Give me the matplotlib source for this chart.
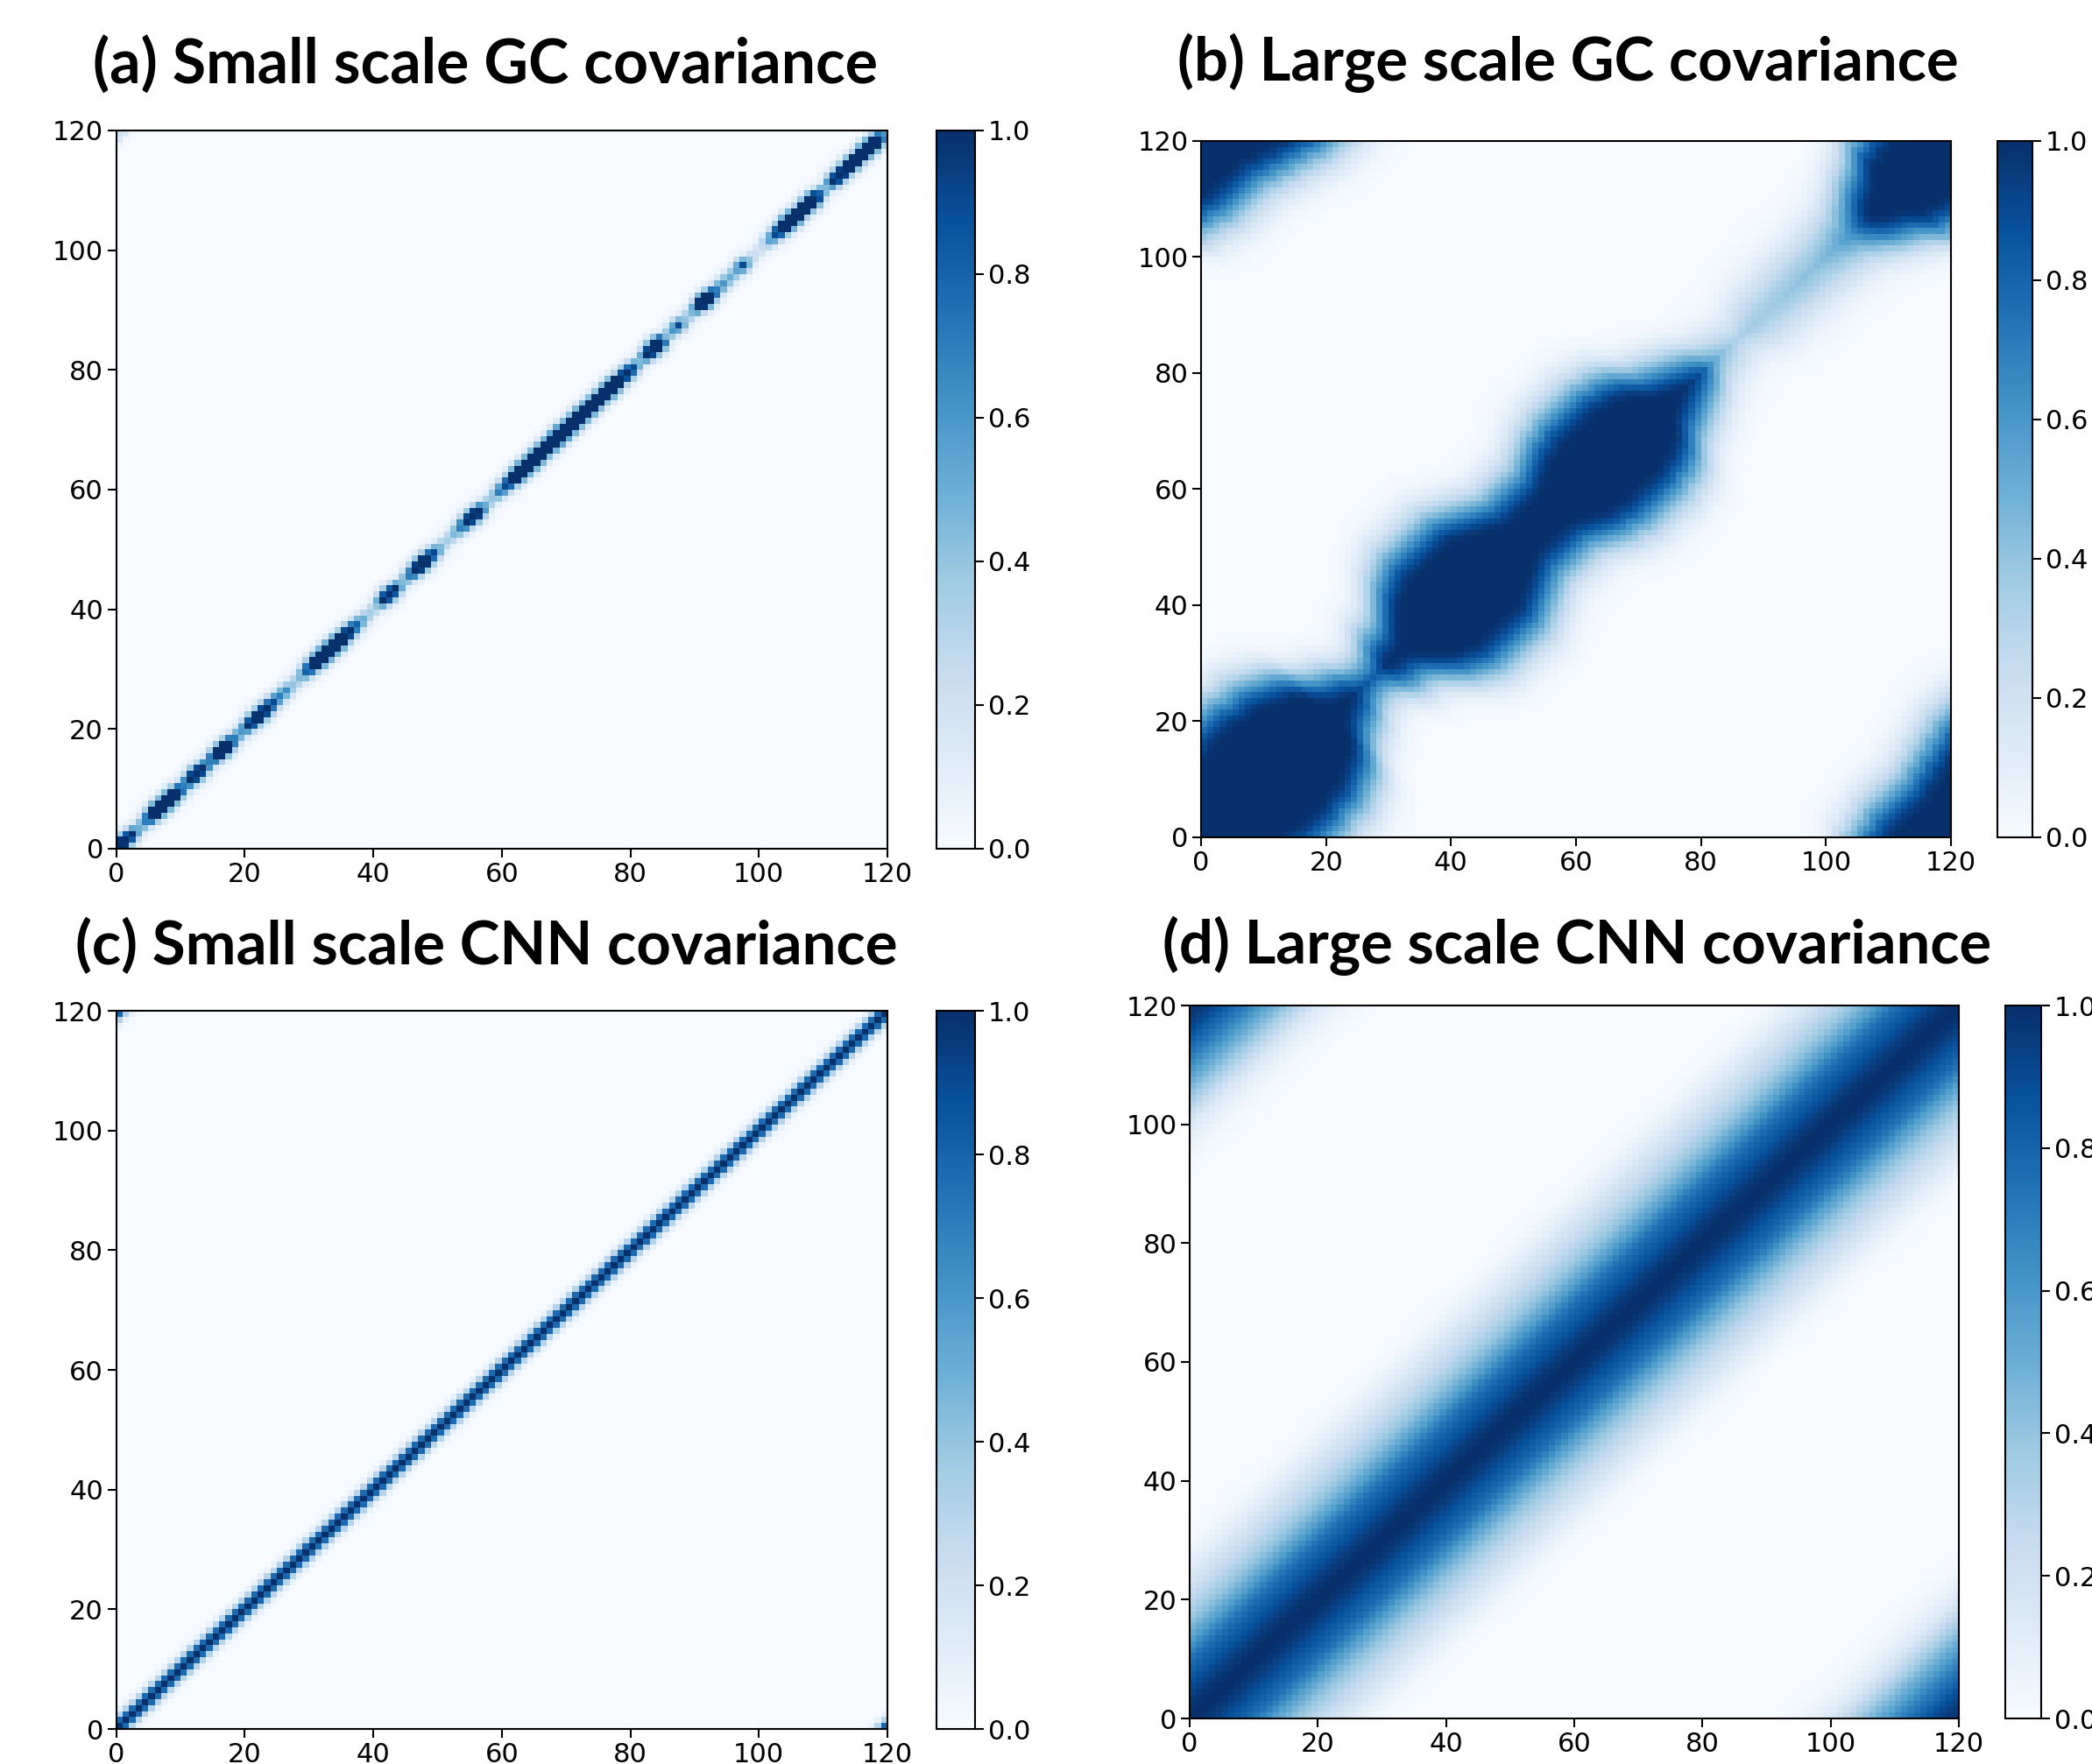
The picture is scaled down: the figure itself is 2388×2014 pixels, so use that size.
import numpy as np
import matplotlib
matplotlib.use("Agg")
import matplotlib.pyplot as plt

W, H = 2388, 2014
N = 120

# (a) strength along the diagonal, read cell by cell
gc_small_strength = [
    1.4, 1.4, 1.0, .5, .7, 1.3, 1.8, 1.8, 1.8, 1.4,
    .7, 1.1, 1.5, 1.1, .7, 1.3, 1.6, 1.3, .7, .6,
    1.0, 1.4, 1.4, 1.2, .9, .7, .65, .4, .45, .8,
    1.3, 1.8, 1.9, 1.9, 1.8, 1.4, 1.2, .8, .5, .35,
    .4, 1.0, 1.4, 1.0, .45, .7, 1.2, 1.5, 1.3, .9,
    .45, .35, .45, .7, 1.1, 1.5, 1.2, .5, .4, .7,
    .9, 1.3, 1.8, 1.9, 1.8, 1.8, 1.7, 1.9, 2.1, 2.1,
    1.8, 1.7, 1.8, 1.8, 1.7, 1.6, 1.8, 1.7, 1.2, 1.3,
    .9, .45, 1.0, 1.6, 1.6, .45, .6, .9, .4, .45,
    1.0, 1.8, 1.4, .7, .6, .5, .55, .9, .4, .22,
    .25, .55, .9, 1.4, 1.9, 1.9, 1.3, 1.6, 1.7, .8,
    .45, 1.2, 1.3, 1.4, 1.6, 1.3, 1.8, 1.8, 1.4, .6,
]
gc_small_kernel = [1.0, .7, .25, .07, .015]
gc_small_corner = [.2, .15, .03]

# (b) width of the dark band and its level along the diagonal
gc_large_width = [
    9, 9, 10, 10, 11, 11, 12, 12, 13, 13,
    13, 13, 13, 12, 12, 12, 11, 10, 9, 8,
    6, 3, 1, 0, -1, -3, -4, -4, -3, -1,
    0, 0, 1, 3, 5, 7, 8, 9, 10, 10,
    10, 10, 10, 10, 10, 10, 9, 8, 7, 6,
    5, 4, 4, 4, 4, 4, 4, 5, 6, 7,
    8, 8, 9, 9, 9, 9, 9, 9, 9, 8,
    8, 7, 6, 4, 2, 1, 0, -1, -2, -3,
    -4, -5, -5, -5, -5, -5, -5, -4, -3, -2,
    -2, -2, -2, -2, -2, -2, -2, -2, -2, -2,
    -2, -2, -2, -2, -1, -1, 0, 1, 2, 3,
    5, 7, 7, 8, 8, 9, 9, 9, 9, 9,
]
gc_large_level = [
    1, 1, 1, 1, 1, 1, 1, 1, 1, 1,
    1, 1, 1, 1, 1, 1, 1, 1, 1, 1,
    1, 1, 1, 1, 1, 1, 1, .97, .97, 1,
    1, 1, 1, 1, 1, 1, 1, 1, 1, 1,
    1, 1, 1, 1, 1, 1, 1, 1, 1, 1,
    1, 1, 1, 1, 1, 1, 1, 1, 1, 1,
    1, 1, 1, 1, 1, 1, 1, 1, 1, 1,
    1, 1, 1, 1, 1, 1, 1, 1, 1, 1,
    .95, .8, .65, .55, .49, .42, .42, .42, .4, .38,
    .38, .39, .4, .41, .42, .43, .44, .44, .45, .47,
    .5, .52, .58, .62, .7, .85, .95, 1, 1, 1,
    1, 1, 1, 1, 1, 1, 1, 1, 1, 1,
]
gc_large_falloff = [1, .98, .95, .9, .84, .77, .69, .61, .53, .45,
                    .38, .31, .25, .2, .15, .12, .09, .07, .05, .035,
                    .025, .015, .01, .005, 0]

# (c) values by distance from the diagonal
cnn_small_profile = [1.0, .78, .3, .07, .01]

# (d) values by distance from the diagonal, and across the corners
cnn_large_profile = [1, 1, .98, .96, .93, .9, .87, .84, .81, .78,
                     .74, .69, .63, .57, .52, .47, .42, .38, .34, .3,
                     .27, .24, .21, .18, .15, .12, .1, .08, .06, .04,
                     .025, .015, .01, .005]
cnn_large_wrap = [1, .98, .96, .93, .9, .86, .82, .78, .74, .7,
                  .65, .6, .55, .5, .45, .4, .35, .3, .25, .2,
                  .15, .12, .1, .08, .06, .05, .035, .025, .015, .01, .005]

titles = ["(a) Small scale GC covariance", "(b) Large scale GC covariance",
          "(c) Small scale CNN covariance", "(d) Large scale CNN covariance"]
title_sizes = [50.2, 49.6, 49.7, 49.5]
axis_ticks = [0, 20, 40, 60, 80, 100, 120]
cbar_ticks = [0.0, 0.2, 0.4, 0.6, 0.8, 1.0]


def lookup(table, k):
    return table[k] if k < len(table) else 0.0


def mid_and_dist(i, j):
    d = abs(i - j)
    s = i + j
    if d > N - d:
        # the grid wraps round at the corners
        d = N - d
        s = s + N
    return s, d


def build_gc_small():
    c = np.zeros((N, N))
    for i in range(N):
        for j in range(N):
            d = abs(i - j)
            s = i + j
            a = gc_small_strength[s // 2]
            b = gc_small_strength[(s + 1) // 2]
            c[j, i] = min(1.0, 0.5 * (a + b) * lookup(gc_small_kernel, d))
            if j > i:
                c[j, i] = max(c[j, i], lookup(gc_small_corner, N - 1 - d))
    return c


def build_gc_large():
    c = np.zeros((N, N))
    for i in range(N):
        for j in range(N):
            s, d = mid_and_dist(i, j)
            v = 0.0
            for m in [(s // 2) % N, ((s + 1) // 2) % N]:
                over = max(d - gc_large_width[m], 0)
                v += 0.5 * gc_large_level[m] * lookup(gc_large_falloff, over)
            c[j, i] = v
    return c


def build_cnn_small():
    c = np.zeros((N, N))
    for i in range(N):
        for j in range(N):
            c[j, i] = lookup(cnn_small_profile, mid_and_dist(i, j)[1])
    return c


def build_cnn_large():
    c = np.zeros((N, N))
    for i in range(N):
        for j in range(N):
            d = abs(i - j)
            if d > N - d:
                c[j, i] = lookup(cnn_large_wrap, N - d)
            else:
                c[j, i] = lookup(cnn_large_profile, d)
    return c


def px_axes(fig, left, right, top, bottom):
    return fig.add_axes([left / W, 1 - bottom / H, (right - left) / W, (bottom - top) / H])


def draw_panel(fig, data, box, cbox):
    ax = px_axes(fig, box[0], box[1], box[2], box[3])
    edges = np.arange(N + 1)
    mesh = ax.pcolormesh(edges, edges, data, cmap="Blues", vmin=0, vmax=1)
    ax.set_xticks(axis_ticks)
    ax.set_yticks(axis_ticks)
    ax.tick_params(labelsize=22, length=7, width=1.5)
    for s in ax.spines.values():
        s.set_linewidth(1.5)
    cax = px_axes(fig, cbox[0], cbox[1], box[2], box[3])
    cb = fig.colorbar(mesh, cax=cax)
    cb.set_ticks(cbar_ticks)
    cb.ax.tick_params(labelsize=22, length=7, width=1.5)
    cb.outline.set_linewidth(1.5)


fig = plt.figure(figsize=(W / 100, H / 100), dpi=100)

draw_panel(fig, build_gc_small(), (132.5, 1013, 149, 969), (1069, 1113))
draw_panel(fig, build_gc_large(), (1371, 2227, 161, 956), (2280, 2320))
draw_panel(fig, build_cnn_small(), (132.5, 1013, 1154, 1974), (1069, 1113))
draw_panel(fig, build_cnn_large(), (1358, 2236, 1148, 1962), (2289, 2330))

title_x = [553.6, 1789.5, 555, 1800]
title_y = [73, 71.5, 1081, 1080]
for t, x, y, size in zip(titles, title_x, title_y, title_sizes):
    fig.text(x / W, 1 - y / H, t, ha="center", va="center", fontsize=size,
             fontweight="bold", family="Lato")

fig.savefig("out.png", dpi=100)
